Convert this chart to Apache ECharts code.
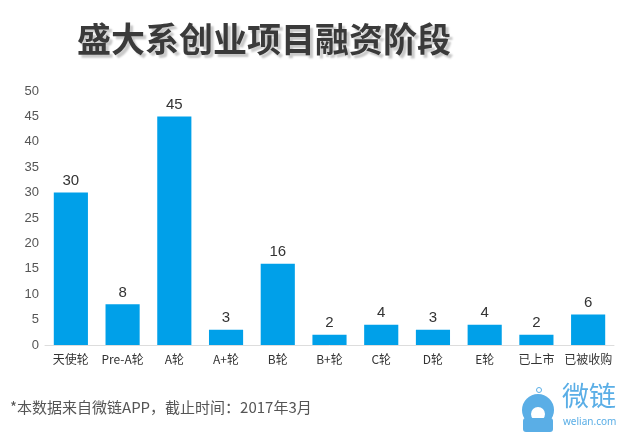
<!DOCTYPE html>
<html><head><meta charset="utf-8">
<script src="https://cdn.jsdelivr.net/npm/echarts@6/dist/echarts.min.js"></script>
<style>html,body{margin:0;padding:0;background:#fff}#c{width:640px;height:447px}</style>
</head><body><div id="c"></div>
<script>
const categories = ['天使轮','Pre-A轮','A轮','A+轮','B轮','B+轮','C轮','D轮','E轮','已上市','已被收购'];
const counts = [30, 8, 45, 3, 16, 2, 4, 3, 4, 2, 6];
const yTicks = [0, 5, 10, 15, 20, 25, 30, 35, 40, 45, 50];
const titleText = '盛大系创业项目融资阶段';
const noteText = '*本数据来自微链APP，截止时间：2017年3月';

const chart = echarts.init(document.getElementById('c'));
const blue = '#5aaee6';
chart.setOption({
  animation: false,
  title: {
    text: titleText, left: 72, top: 17,
    textStyle: {fontFamily: 'Noto Sans CJK SC', fontWeight: 'bold', fontSize: 34, color: '#3a3a3a',
      textShadowColor: 'rgba(0,0,0,0.22)', textShadowOffsetX: 3, textShadowOffsetY: 3, textShadowBlur: 2}
  },
  grid: {left: 45, right: 26, top: 91, bottom: 102, containLabel: false},
  xAxis: {
    type: 'category', data: categories,
    axisLine: {show: true, lineStyle: {color: '#dddddd', width: 1}},
    axisTick: {show: false},
    axisLabel: {color: '#333', fontSize: 12, margin: 8, fontFamily: 'Noto Sans CJK SC', interval: 0}
  },
  yAxis: {
    type: 'value', min: yTicks[0], max: yTicks[yTicks.length-1], interval: 5,
    axisLine: {show: false}, axisTick: {show: false}, splitLine: {show: false},
    axisLabel: {color: '#555', fontSize: 13, margin: 6, fontFamily: 'Liberation Sans'}
  },
  series: [{
    type: 'bar', data: counts, barWidth: '66%',
    itemStyle: {color: '#00a0e9'},
    label: {show: true, position: 'top', color: '#333', fontSize: 15, fontFamily: 'Liberation Sans', distance: 4}
  }],
  graphic: [
    {type: 'text', left: 10, top: 400, style: {text: noteText, fontSize: 15, fill: '#555', fontFamily: 'Noto Sans CJK SC'}},
    {type: 'text', left: 562, top: 382, style: {text: '微链', fontSize: 27, fill: blue, fontFamily: 'Noto Sans CJK SC'}},
    {type: 'text', left: 563, top: 417, style: {text: 'welian.com', fontSize: 10, fill: blue, fontFamily: 'Noto Sans'}},
    {type: 'circle', shape: {cx: 538, cy: 410, r: 16}, style: {fill: blue}},
    {type: 'circle', shape: {cx: 538, cy: 414, r: 7}, style: {fill: '#fff'}},
    {type: 'rect', shape: {x: 523, y: 418, width: 30, height: 14, r: 3}, style: {fill: blue}},
    {type: 'circle', shape: {cx: 539, cy: 390, r: 2.5}, style: {fill: 'none', stroke: blue, lineWidth: 1}}
  ]
});
</script></body></html>
